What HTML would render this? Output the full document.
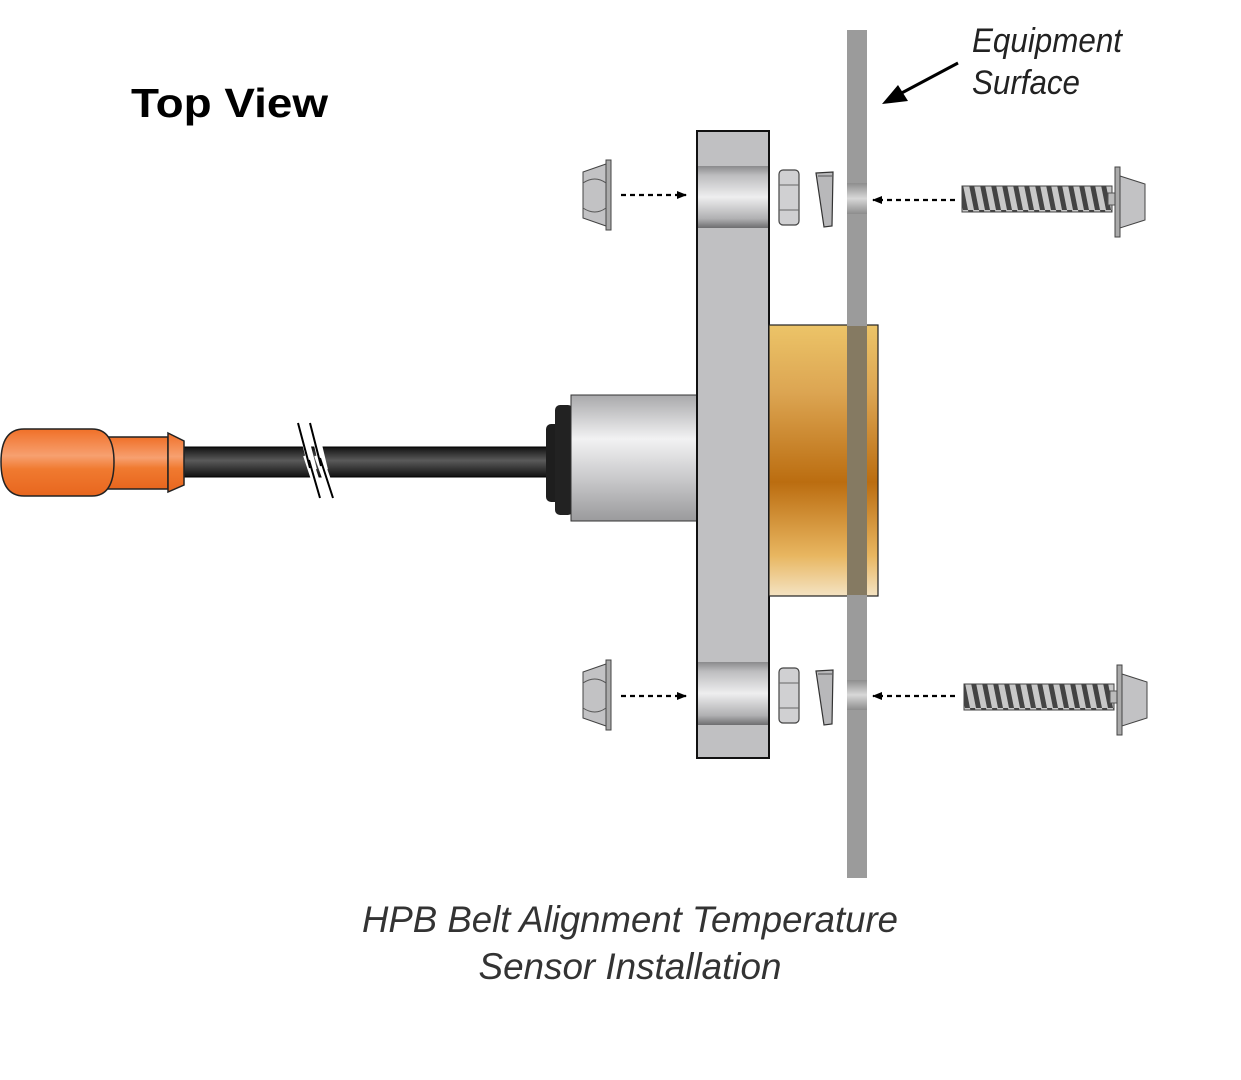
<!DOCTYPE html>
<html><head><meta charset="utf-8"><style>html,body{margin:0;padding:0;background:#fff;width:1241px;height:1080px;overflow:hidden}</style></head><body>
<svg width="1241" height="1080" viewBox="0 0 1241 1080" xmlns="http://www.w3.org/2000/svg">
<defs>
<linearGradient id="silv" x1="0" y1="0" x2="0" y2="1">
<stop offset="0" stop-color="#8a8a8c"/><stop offset="0.15" stop-color="#bdbdbf"/><stop offset="0.5" stop-color="#eeeeef"/><stop offset="0.85" stop-color="#b0b0b2"/><stop offset="1" stop-color="#6d6d6f"/></linearGradient>
<linearGradient id="cyl" x1="0" y1="0" x2="0" y2="1">
<stop offset="0" stop-color="#a9a9ab"/><stop offset="0.35" stop-color="#f2f2f3"/><stop offset="0.7" stop-color="#c4c4c6"/><stop offset="1" stop-color="#9a9a9c"/></linearGradient>
<linearGradient id="gold" x1="0" y1="0" x2="0" y2="1">
<stop offset="0" stop-color="#ecc468"/><stop offset="0.25" stop-color="#dca552"/><stop offset="0.58" stop-color="#bb6d10"/><stop offset="0.85" stop-color="#e8b660"/><stop offset="1" stop-color="#f4e3c3"/></linearGradient>
<linearGradient id="cab" x1="0" y1="0" x2="0" y2="1">
<stop offset="0" stop-color="#111"/><stop offset="0.45" stop-color="#5a5a5a"/><stop offset="1" stop-color="#111"/></linearGradient>
<linearGradient id="org" x1="0" y1="0" x2="0" y2="1">
<stop offset="0" stop-color="#f07028"/><stop offset="0.4" stop-color="#f7a070"/><stop offset="0.6" stop-color="#f07a30"/><stop offset="1" stop-color="#e8661e"/></linearGradient>
<linearGradient id="hole" x1="0" y1="0" x2="0" y2="1">
<stop offset="0" stop-color="#8d8d8d"/><stop offset="0.5" stop-color="#d8d8d8"/><stop offset="1" stop-color="#8d8d8d"/></linearGradient>
<pattern id="thr" width="11" height="30" patternUnits="userSpaceOnUse">
<rect width="11" height="30" fill="#c8c8c8"/><path d="M0 0 L6 30 L11 30 L5 0Z" fill="#444"/></pattern>
<g id="nutL">
<path d="M583 172 L606 164 L606 226 L583 218Z" fill="#c2c2c4" stroke="#444" stroke-width="1"/>
<rect x="606" y="160" width="5" height="70" fill="#aaa" stroke="#444" stroke-width="1"/>
<path d="M583 183 Q595 175 606 183 M583 208 Q595 216 606 208" fill="none" stroke="#555" stroke-width="1"/>
</g>
<g id="mid">
<rect x="779" y="170" width="20" height="55" rx="4" fill="#d0d0d2" stroke="#444" stroke-width="1.2"/>
<path d="M779 185 L799 185 M779 210 L799 210" stroke="#666"/>
<path d="M816 173 L833 172 L832 226 L824 227 Z" fill="#b8b8ba" stroke="#333" stroke-width="1.2"/>
<path d="M818 176 L832 176" stroke="#555"/>
</g>
<g id="screw">
<rect x="962" y="186" width="150" height="26" fill="url(#thr)" stroke="#444" stroke-width="1"/>
<rect x="1108" y="193" width="8" height="12" fill="#bbb" stroke="#555"/>
<rect x="1115" y="167" width="5" height="70" fill="#aaa" stroke="#444"/>
<path d="M1120 176 L1145 184 L1145 220 L1120 228Z" fill="#c2c2c4" stroke="#444"/>
</g>
<marker id="ah" markerWidth="10" markerHeight="8" refX="9" refY="4" orient="auto" markerUnits="userSpaceOnUse"><path d="M0 0 L10 4 L0 8Z" fill="#000"/></marker>
</defs>

<text x="131" y="117" font-family="Liberation Sans, sans-serif" font-weight="bold" font-size="41" textLength="197" lengthAdjust="spacingAndGlyphs">Top View</text>
<text x="972" y="52" font-family="Liberation Sans, sans-serif" font-style="italic" font-size="34" fill="#222" textLength="150" lengthAdjust="spacingAndGlyphs">Equipment</text>
<text x="972" y="94" font-family="Liberation Sans, sans-serif" font-style="italic" font-size="34" fill="#222" textLength="108" lengthAdjust="spacingAndGlyphs">Surface</text>
<line x1="958" y1="63" x2="896" y2="96" stroke="#000" stroke-width="3"/>
<path d="M882 104 L898 85 L908 101Z" fill="#000"/>

<rect x="183" y="447" width="370" height="30" fill="url(#cab)" stroke="#000"/>
<path d="M300 420 L313 470 L307 455 L322 500 M312 420 L324 470 L318 455 L334 500" stroke="#fff" stroke-width="8" fill="none"/>
<path d="M298 423 L310 468 M310 423 L321 466 M309 460 L320 498 M320 458 L333 498" stroke="#000" stroke-width="2" fill="none"/>
<rect x="108" y="437" width="60" height="52" fill="url(#org)" stroke="#222" stroke-width="1.5"/>
<path d="M24 429 L92 429 Q114 429 114 462 Q114 496 92 496 L24 496 Q1 496 1 462 Q1 429 24 429Z" fill="url(#org)" stroke="#222" stroke-width="1.5"/>
<path d="M168 433 L184 441 L184 485 L168 492Z" fill="url(#org)" stroke="#222" stroke-width="1.5"/>
<rect x="546" y="424" width="14" height="78" rx="5" fill="#1e1e1e"/>
<rect x="555" y="405" width="18" height="110" rx="5" fill="#222"/>
<rect x="571" y="395" width="127" height="126" fill="url(#cyl)" stroke="#333"/>

<rect x="697" y="131" width="72" height="627" fill="#c0c0c2" stroke="#111" stroke-width="2"/>
<rect x="698" y="166" width="70" height="62" fill="url(#silv)"/>
<rect x="698" y="662" width="70" height="63" fill="url(#silv)"/>

<rect x="769" y="325" width="109" height="271" fill="url(#gold)" stroke="#222" stroke-width="1.2"/>
<rect x="847" y="30" width="20" height="848" fill="#9b9b9b"/>
<rect x="847" y="326" width="20" height="269" fill="#857a62"/>
<rect x="847" y="183" width="20" height="31" fill="url(#hole)"/>
<rect x="847" y="680" width="20" height="30" fill="url(#hole)"/>

<use href="#nutL"/><use href="#nutL" y="500"/>
<use href="#mid"/><use href="#mid" y="498"/>
<use href="#screw"/><use href="#screw" x="2" y="498"/>

<g stroke="#000" stroke-width="2.2" stroke-dasharray="5,4" fill="none">
<line x1="621" y1="195" x2="686" y2="195" marker-end="url(#ah)"/>
<line x1="621" y1="696" x2="686" y2="696" marker-end="url(#ah)"/>
<line x1="955" y1="200" x2="873" y2="200" marker-end="url(#ah)"/>
<line x1="955" y1="696" x2="873" y2="696" marker-end="url(#ah)"/>
</g>

<text x="630" y="932" text-anchor="middle" font-family="Liberation Sans, sans-serif" font-style="italic" font-size="37" fill="#333" textLength="536" lengthAdjust="spacingAndGlyphs">HPB Belt Alignment Temperature</text>
<text x="630" y="979" text-anchor="middle" font-family="Liberation Sans, sans-serif" font-style="italic" font-size="37" fill="#333" textLength="303" lengthAdjust="spacingAndGlyphs">Sensor Installation</text>
</svg>
</body></html>
